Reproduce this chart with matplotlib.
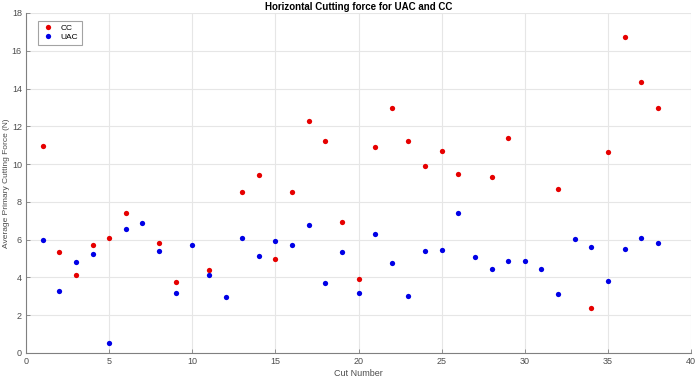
import matplotlib
matplotlib.use("Agg")
import matplotlib.pyplot as plt
import numpy as np

plt.rcParams['font.family'] = ['Liberation Sans', 'DejaVu Sans']

cc_cuts = [1, 2, 3, 4, 5, 6, 8, 9, 11, 13, 14, 15, 16, 17, 18, 19, 20, 21, 22, 23,
           24, 25, 26, 28, 29, 32, 34, 35, 36, 37, 38]
cc_force = [10.97, 5.33, 4.14, 5.74, 6.1, 7.4, 5.8, 3.77, 4.4, 8.5, 9.42, 5.0, 8.5, 12.27,
            11.22, 6.96, 3.91, 10.9, 12.95, 11.2, 9.89, 10.68, 9.5, 9.33, 11.38, 8.7,
            2.38, 10.63, 16.72, 14.35, 12.96]

uac_cuts = list(range(1, 39))
uac_force = [5.98, 3.26, 4.82, 5.26, 0.53, 6.58, 6.87, 5.38, 3.17, 5.7, 4.14, 2.96,
             6.08, 5.14, 5.91, 5.74, 6.8, 3.68, 5.35, 3.17, 6.32, 4.77, 3.02, 5.38,
             5.44, 7.4, 5.09, 4.47, 4.89, 4.89, 4.44, 3.14, 6.03, 5.63, 3.81, 5.53,
             6.09, 5.81]

xticks = [0, 5, 10, 15, 20, 25, 30, 35, 40]
yticks = [0, 2, 4, 6, 8, 10, 12, 14, 16, 18]

fig = plt.figure(figsize=(7, 3.81), dpi=100)
ax = fig.add_axes([26/700, 28/381, 665/700, 340/381])

ax.plot(cc_cuts, cc_force, 'o', color=(0.9, 0, 0), markersize=3.8, markeredgewidth=0, label='CC')
ax.plot(uac_cuts, uac_force, 'o', color=(0, 0, 0.9), markersize=3.8, markeredgewidth=0, label='UAC')

ax.set_xlim(0, 40)
ax.set_ylim(0, 18)
ax.set_xticks(xticks)
ax.set_yticks(yticks)
ax.grid(True, color=(0.9, 0.9, 0.9), linewidth=0.8)
ax.set_axisbelow(True)
for s in ['top', 'right']:
    ax.spines[s].set_visible(False)
for s in ['left', 'bottom']:
    ax.spines[s].set_color((0.5, 0.5, 0.5))
    ax.spines[s].set_linewidth(0.8)
ax.tick_params(direction='in', length=3, width=0.6, colors=(0.5, 0.5, 0.5),
               labelcolor=(0.3, 0.3, 0.3), labelsize=6.5, pad=3)

ax.set_title('Horizontal Cutting force for UAC and CC', fontsize=7, fontweight='bold', pad=2)
ax.set_xlabel('Cut Number', fontsize=6.5, color=(0.3, 0.3, 0.3), labelpad=2)
ax.set_ylabel('Average Primary Cutting Force (N)', fontsize=6, color=(0.3, 0.3, 0.3), labelpad=1)

leg = ax.legend(loc='upper left', fontsize=6, frameon=True, fancybox=False,
                edgecolor=(0.55, 0.55, 0.55), handletextpad=0.8, borderpad=0.4,
                labelspacing=0.2, bbox_to_anchor=(0.012, 0.99), handlelength=1.5)
leg.get_frame().set_linewidth(0.8)

fig.savefig('out.png', dpi=100, facecolor='white')
